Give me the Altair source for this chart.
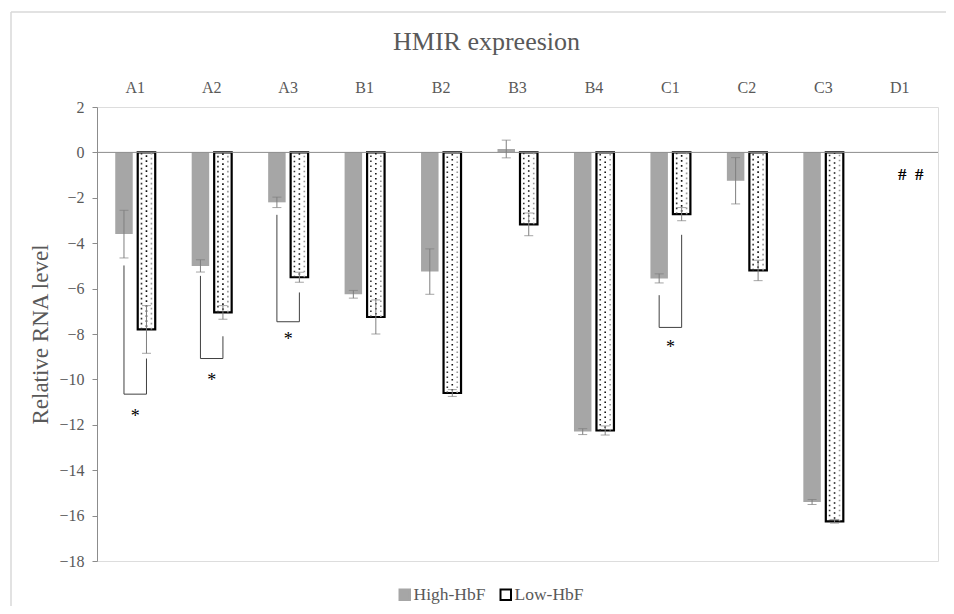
import altair as alt
import pandas as pd

categories = ["A1", "A2", "A3", "B1", "B2", "B3", "B4", "C1", "C2", "C3", "D1"]
series = ["High-HbF", "Low-HbF"]
high_vals = [-3.6, -5.0, -2.2, -6.25, -5.25, 0.15, -12.3, -5.55, -1.25, -15.4, None]
high_err = [1.05, 0.27, 0.23, 0.17, 1.0, 0.39, 0.13, 0.2, 1.02, 0.11, None]
low_vals = [-7.8, -7.05, -5.5, -7.25, -10.6, -3.17, -12.25, -2.72, -5.2, -16.25, None]
low_err = [1.05, 0.3, 0.22, 0.75, 0.15, 0.5, 0.2, 0.29, 0.45, 0.08, None]

# significance brackets: category, top of left leg, top of right leg, bottom, star position
br_cats = ["A1", "A2", "A3", "C1"]
br_left_top = [-4.98, -5.44, -2.75, -6.29]
br_right_top = [-9.08, -8.1, -6.17, -3.63]
br_bottom = [-10.65, -9.08, -7.46, -7.71]
br_star = [-11.5, -9.9, -8.1, -8.45]

hash_cat = ["D1"]
hash_y = [-0.98]

FONT = "Liberation Serif"
GREY_TXT = "#595959"

rows = []
for i, c in enumerate(categories):
    for s, v, e in ((series[0], high_vals[i], high_err[i]), (series[1], low_vals[i], low_err[i])):
        if v is None:
            continue
        rows.append({"cat": c, "series": s, "value": v, "lo": v - e, "hi": v + e})
bars = pd.DataFrame(rows)
low_df = bars[bars["series"] == "Low-HbF"]

br_rows = []
for i, c in enumerate(br_cats):
    pts = [("High-HbF", br_left_top[i]), ("High-HbF", br_bottom[i]),
           ("Low-HbF", br_bottom[i]), ("Low-HbF", br_right_top[i])]
    for k, (s, y) in enumerate(pts):
        br_rows.append({"cat": c, "series": s, "y": y, "k": k, "b": c})
br_df = pd.DataFrame(br_rows)
star_df = pd.DataFrame({"cat": br_cats, "y": br_star})
hash_df = pd.DataFrame({"cat": hash_cat, "y": hash_y})

x_scale = alt.Scale(domain=categories, paddingInner=0, paddingOuter=0)
x_axis = alt.Axis(orient="top", domain=False, ticks=False, labelAngle=0,
                  labelFont=FONT, labelFontSize=16, labelColor=GREY_TXT,
                  labelPadding=12, title=None)
x_enc = alt.X("cat:N", scale=x_scale, axis=x_axis)
xo_enc = alt.XOffset("series:N", scale=alt.Scale(domain=series, paddingInner=0.222, paddingOuter=0.811))
y_scale = alt.Scale(domain=[-18, 2], nice=False)
y_enc = alt.Y("value:Q", scale=y_scale,
              axis=alt.Axis(values=list(range(-18, 3, 2)), grid=False, tickSize=5,
                            domainColor="#8c8c8c", tickColor="#8c8c8c",
                            labelFont=FONT, labelFontSize=16, labelColor=GREY_TXT, labelPadding=8,
                            title="Relative RNA level", titleFont=FONT, titleFontSize=23,
                            titleFontWeight="normal", titleColor=GREY_TXT, titlePadding=6))

# light grey chart-area frame (top and left edges visible in the reference)
frame_src = pd.DataFrame({"a": [0]})
frame_top = alt.Chart(frame_src).mark_rule(stroke="#d9d9d9", strokeWidth=1.5).encode(
    x=alt.value(-86), x2=alt.value(870), y=alt.value(-95))
frame_left = alt.Chart(frame_src).mark_rule(stroke="#d9d9d9", strokeWidth=1.5).encode(
    x=alt.value(-86), y=alt.value(-95), y2=alt.value(520))

zero = alt.Chart(pd.DataFrame({"z": [0]})).mark_rule(color="#8c8c8c", strokeWidth=1).encode(
    y=alt.Y("z:Q", scale=y_scale))

legend = alt.Legend(title=None, orient="none", legendX=299, legendY=479,
                    direction="horizontal", symbolType="square", symbolSize=110,
                    symbolStrokeWidth=2, labelFont=FONT, labelFontSize=17.5,
                    labelColor=GREY_TXT, labelOffset=0, columnPadding=10)

bar_layer = alt.Chart(bars).mark_bar().encode(
    x=x_enc, xOffset=xo_enc, y=y_enc, y2=alt.datum(0),
    fill=alt.Fill("series:N", scale=alt.Scale(domain=series, range=["#a6a6a6", "#ffffff"]), legend=legend),
    stroke=alt.Stroke("series:N", scale=alt.Scale(domain=series, range=["#a6a6a6", "#000000"]), legend=legend),
    strokeWidth=alt.condition(alt.datum.series == "Low-HbF", alt.value(2.2), alt.value(0)),
)

def dots(band_pos, color, dash_offset):
    return alt.Chart(low_df).mark_rule(
        color=color, strokeWidth=1.6, strokeDash=[1.6, 3.4], strokeDashOffset=dash_offset).encode(
        x=alt.X("cat:N", scale=x_scale, axis=x_axis, bandPosition=band_pos),
        y=alt.Y("value:Q", scale=y_scale), y2=alt.datum(0))

err_rule = alt.Chart(bars).mark_rule(color="#7f7f7f", strokeWidth=1).encode(
    x=x_enc, xOffset=xo_enc, y=alt.Y("lo:Q", scale=y_scale), y2="hi:Q")
err_lo = alt.Chart(bars).mark_tick(color="#7f7f7f", size=9, thickness=1).encode(
    x=x_enc, xOffset=xo_enc, y=alt.Y("lo:Q", scale=y_scale))
err_hi = alt.Chart(bars).mark_tick(color="#7f7f7f", size=9, thickness=1).encode(
    x=x_enc, xOffset=xo_enc, y=alt.Y("hi:Q", scale=y_scale))

brackets = alt.Chart(br_df).mark_line(color="#404040", strokeWidth=1).encode(
    x=x_enc, xOffset=xo_enc, y=alt.Y("y:Q", scale=y_scale), order="k:O", detail="b:N")

stars = alt.Chart(star_df).mark_text(text="*", font=FONT, fontSize=18, color="#000000",
                                     baseline="middle", dy=4).encode(
    x=x_enc, y=alt.Y("y:Q", scale=y_scale))

hashes = alt.Chart(hash_df).mark_text(text="#\u00a0\u00a0#", font=FONT, fontSize=17, fontWeight="bold",
                                      color="#000000", baseline="middle", dx=11).encode(
    x=x_enc, y=alt.Y("y:Q", scale=y_scale))

chart = alt.layer(
    frame_top, frame_left, bar_layer,
    dots(0.582, "#333333", 0), dots(0.647, "#111111", 2.5), dots(0.712, "#999999", 0),
    zero, err_rule, err_lo, err_hi, brackets, stars, hashes
).properties(
    width=841, height=454,
    title=alt.TitleParams("HMIR expreesion", font=FONT, fontSize=26, fontWeight="normal",
                          color=GREY_TXT, dx=-31, offset=-44),
    autosize=alt.AutoSizeParams(type="none"),
    padding={"left": 89, "top": 99, "right": 8, "bottom": 45},
).configure_view(stroke=None).configure(background="white")

chart.save("out.html", embed_options={"renderer": "svg", "actions": False})
